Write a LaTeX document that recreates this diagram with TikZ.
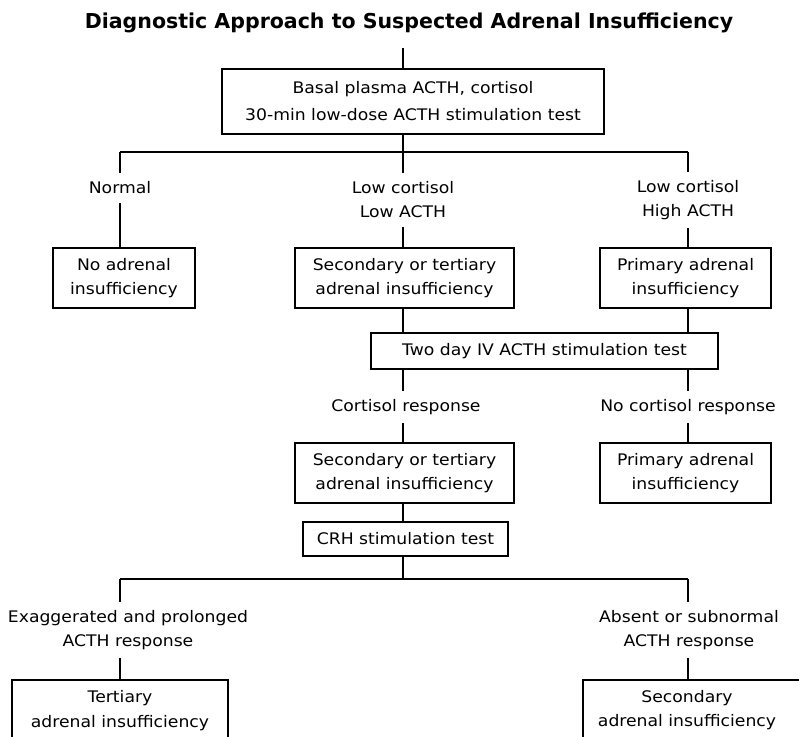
\documentclass[tikz,border=0pt]{standalone}
\usepackage{fontspec}
\setmainfont{DejaVu Sans}[FakeStretch=1.08]
\newfontfamily\ttlfont{DejaVu Sans}
\begin{document}
\begin{tikzpicture}[x=1bp,y=-1bp,line width=1.3bp,
  box/.style={draw,line width=1.3bp,inner sep=0pt,align=center,font=\fontsize{16}{24.5}\selectfont},
  lbl/.style={inner xsep=4bp,inner ysep=8bp,align=center,font=\fontsize{16}{24}\selectfont},
  ttl/.style={inner sep=0pt,font=\ttlfont\bfseries\fontsize{20.6}{22}\selectfont}]
\clip (0,0) rectangle (799,737);
\fill[white] (0,0) rectangle (799,737);
% title
\node[ttl] (title) at (409,23) {Diagnostic Approach to Suspected Adrenal Insufficiency};
% columns
\coordinate (top) at (403,48);
\coordinate (barL) at (120,152);
\coordinate (barC) at (403,152);
\coordinate (barR) at (688,152);
\coordinate (bbL) at (120,579);
\coordinate (bbC) at (403,579);
\coordinate (bbR) at (688,579);
% boxes
\node[box,minimum width=382bp,minimum height=65bp,font=\fontsize{16}{27}\selectfont] (b1) at (413,101.5) {Basal plasma ACTH, cortisol\\30-min low-dose ACTH stimulation test};
\node[box,minimum width=142bp,minimum height=60bp] (noadr) at (124,278) {No adrenal\\insufficiency};
\node[box,minimum width=219bp,minimum height=60bp] (sec1) at (404.5,278) {Secondary or tertiary\\adrenal insufficiency};
\node[box,minimum width=171bp,minimum height=60bp] (prim1) at (685.5,278) {Primary adrenal\\insufficiency};
\node[box,minimum width=347bp,minimum height=36bp] (twoday) at (544.5,351) {Two day IV ACTH stimulation test};
\node[box,minimum width=219bp,minimum height=60bp] (sec2) at (404.5,473) {Secondary or tertiary\\adrenal insufficiency};
\node[box,minimum width=171bp,minimum height=60bp] (prim2) at (685.5,473) {Primary adrenal\\insufficiency};
\node[box,minimum width=205bp,minimum height=34bp] (crh) at (405.5,539) {CRH stimulation test};
\node[box,minimum width=216bp,minimum height=61bp] (tert) at (120,710.5) {Tertiary\\adrenal insufficiency};
\node[lbl,inner sep=0pt] (secd) at (687,710.5) {Secondary\\adrenal insufficiency};
\coordinate (secdtop) at (688,680);
\draw (583,680) rectangle (840,745);
% labels
\node[lbl] (normal) at (120,188) {Normal};
\node[lbl] (lowacth) at (403,200) {Low cortisol\\Low ACTH};
\node[lbl] (highacth) at (688,200) {Low cortisol\\High ACTH};
\node[lbl] (cresp) at (406,407) {Cortisol response};
\node[lbl] (ncresp) at (688,407) {No cortisol response};
\node[lbl] (exag) at (128,630) {Exaggerated and prolonged\\ACTH response};
\node[lbl] (absent) at (689,630) {Absent or subnormal\\ACTH response};
% connectors
\draw (top) -- (b1.north -| top);
\draw (b1.south -| barC) -- (barC);
\draw (barL) -- (barR);
\draw (barL) -- (normal.north -| barL);
\draw (normal.south -| barL) -- (noadr.north -| barL);
\draw (barC) -- (lowacth.north -| barC);
\draw (lowacth.south -| barC) -- (sec1.north -| barC);
\draw (barR) -- (highacth.north -| barR);
\draw (highacth.south -| barR) -- (prim1.north -| barR);
\draw (sec1.south -| barC) -- (twoday.north -| barC);
\draw (prim1.south -| barR) -- (twoday.north -| barR);
\draw (twoday.south -| barC) -- (cresp.north -| barC);
\draw (cresp.south -| barC) -- (sec2.north -| barC);
\draw (twoday.south -| barR) -- (ncresp.north -| barR);
\draw (ncresp.south -| barR) -- (prim2.north -| barR);
\draw (sec2.south -| barC) -- (crh.north -| barC);
\draw (crh.south -| bbC) -- (bbC);
\draw (bbL) -- (bbR);
\draw (bbL) -- (exag.north -| bbL);
\draw (exag.south -| bbL) -- (tert.north -| bbL);
\draw (bbR) -- (absent.north -| bbR);
\draw (absent.south -| bbR) -- (secdtop);
\end{tikzpicture}
\end{document}
